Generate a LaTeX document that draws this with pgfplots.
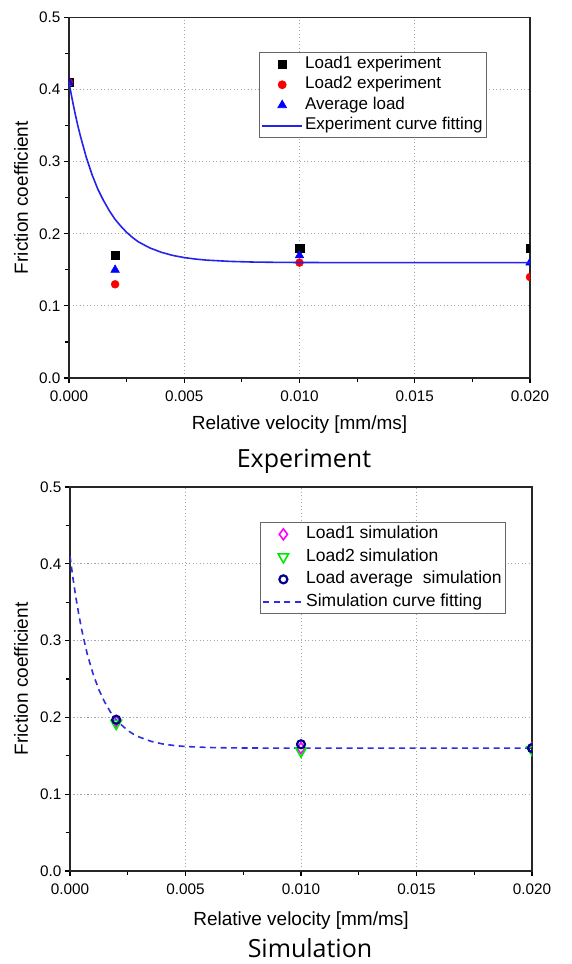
\documentclass[border=0pt]{standalone}
\usepackage{fontspec}
\setmainfont{Liberation Sans}
\newfontfamily\capfont{Open Sans}
\usepackage{pgfplots}
\pgfplotsset{compat=1.18}
\definecolor{fitblue}{RGB}{35,35,235}
\definecolor{dashblue}{RGB}{45,45,225}
\definecolor{mkblue}{RGB}{0,0,255}
\definecolor{mkred}{RGB}{250,0,0}
\definecolor{mkmag}{RGB}{255,0,255}
\definecolor{mkgreen}{RGB}{0,235,0}
\definecolor{mknavy}{RGB}{0,0,140}
\begin{document}
\begin{tikzpicture}
\useasboundingbox (0pt,0pt) rectangle (571pt,964pt);
\pgfplotsset{
  myaxis/.style={
    scale only axis, anchor=south west,
    xmin=0, xmax=0.02, ymin=0, ymax=0.5,
    xtick={0,0.005,0.01,0.015,0.02},
    ytick={0,0.1,0.2,0.3,0.4,0.5},
    minor x tick num=1, minor y tick num=1,
    tick pos=left, tick align=outside,
    major tick length=5pt, minor tick length=4pt,
    every tick/.style={black, line width=1.2pt},
    grid=major,
    major grid style={black!35, line width=1pt, dash pattern=on 1.2pt off 2.3pt},
    axis line style={black!85, line width=1.4pt},
    scaled x ticks=false, scaled y ticks=false,
    x tick label style={/pgf/number format/fixed, /pgf/number format/fixed zerofill, /pgf/number format/precision=3, yshift=-4pt},
    y tick label style={/pgf/number format/fixed, /pgf/number format/fixed zerofill, /pgf/number format/precision=1},
    /pgf/number format/assume math mode=true,
    tick label style={font=\fontsize{15.3}{18}\selectfont},
    label style={font=\fontsize{19}{22}\selectfont},
    legend cell align=left,
    clip marker paths=true,
    legend image code/.code={\draw[mark repeat=2,mark phase=2,##1] plot coordinates {(0pt,0pt) (20pt,0pt) (40pt,0pt)};},
  }
}
% ---------------- Experiment ----------------
\begin{axis}[myaxis,
  at={(69pt,586pt)}, width=461pt, height=360.5pt,
  xlabel={Relative velocity [mm/ms]},
  ylabel={Friction coefficient},
  x label style={at={(axis description cs:0.5,-0.13)}, anchor=center},
  y label style={at={(axis description cs:-0.104,0.5)}, anchor=center},
  legend style={at={(0.907,0.904)}, anchor=north east, draw=black!60, line width=0.8pt,
    font=\fontsize{17}{20}\selectfont, inner xsep=2pt, inner ysep=2pt, row sep=1pt,
    nodes={inner sep=2pt, text height=12pt, text depth=3.5pt}},
]
\addplot[only marks, mark=square*, mark size=4.2pt, color=black, draw=black, fill=black] coordinates {
(0,0.41) (0.002,0.17) (0.01,0.18) (0.02,0.18)};
\addlegendentry{Load1 experiment}
\addplot[only marks, mark=*, mark size=4pt, color=mkred, draw=mkred, fill=mkred] coordinates {
(0,0.41) (0.002,0.13) (0.01,0.16) (0.02,0.14)};
\addlegendentry{Load2 experiment}
\addplot[only marks, mark=triangle*, mark size=5pt, color=mkblue, draw=mkblue, fill=mkblue] coordinates {
(0,0.41) (0.002,0.15) (0.01,0.17) (0.02,0.16)};
\addlegendentry{Average load}
\addplot[forget plot, no marks, color=fitblue, draw=fitblue, line width=1.6pt] coordinates {
(0,0.41) (0.000125,0.3887) (0.00025,0.369) (0.000375,0.351) (0.0005,0.335)
(0.00075,0.306) (0.001,0.282) (0.00125,0.262) (0.0015,0.246) (0.00175,0.232)
(0.002,0.220) (0.00225,0.2105) (0.0025,0.202) (0.00275,0.195) (0.003,0.189)
(0.0035,0.1805) (0.004,0.1744) (0.0045,0.170) (0.005,0.167) (0.0055,0.1649)
(0.006,0.1634) (0.007,0.1617) (0.008,0.1608) (0.009,0.1604) (0.01,0.1602)
(0.012,0.160) (0.015,0.160) (0.02,0.160)};
\addlegendimage{legend image code/.code={\draw[draw=fitblue, line width=1.8pt] (0pt,0pt) -- (40pt,0pt);}}
\addlegendentry{Experiment curve fitting}
\end{axis}
\node[font=\capfont\fontsize{25}{30}\selectfont] at (304pt,503pt) {Experiment};
% ---------------- Simulation ----------------
\begin{axis}[myaxis,
  at={(70pt,93pt)}, width=462pt, height=384pt,
  xlabel={Relative velocity [mm/ms]},
  ylabel={Friction coefficient},
  x label style={at={(axis description cs:0.5,-0.128)}, anchor=center},
  y label style={at={(axis description cs:-0.106,0.5)}, anchor=center},
  legend style={at={(0.944,0.909)}, anchor=north east, draw=black!60, line width=0.8pt,
    font=\fontsize{17.5}{20}\selectfont, inner xsep=2pt, inner ysep=2pt, row sep=2.5pt,
    nodes={inner sep=2pt, text height=12.5pt, text depth=3.5pt}},
]
\addplot[forget plot, no marks, color=dashblue, draw=dashblue, line width=1.6pt, dash pattern=on 6pt off 4.5pt] coordinates {
(0,0.41) (0.000125,0.382) (0.00025,0.357) (0.000375,0.335) (0.0005,0.315)
(0.00075,0.282) (0.001,0.2565) (0.00125,0.236) (0.0015,0.220) (0.00175,0.207)
(0.002,0.197) (0.00225,0.1896) (0.0025,0.183) (0.00275,0.178) (0.003,0.1744)
(0.0035,0.1689) (0.004,0.1655) (0.0045,0.1634) (0.005,0.1621) (0.006,0.1608)
(0.007,0.1603) (0.008,0.1601) (0.01,0.160) (0.015,0.160) (0.02,0.160)};
\addplot[only marks, mark=diamond, mark size=5.5pt, color=mkmag, draw=mkmag, mark options={line width=1.6pt}] coordinates {
(0.002,0.195) (0.01,0.160) (0.02,0.160)};
\addlegendentry{Load1 simulation}
\addplot[only marks, mark=triangle, mark size=6pt, color=mkgreen, draw=mkgreen, mark options={rotate=180, line width=1.6pt}] coordinates {
(0.002,0.192) (0.01,0.156) (0.02,0.158)};
\addlegendentry{Load2 simulation}
\addplot[only marks, mark=o, mark size=4pt, color=mknavy, draw=mknavy, mark options={line width=2.2pt}] coordinates {
(0.002,0.197) (0.01,0.165) (0.02,0.160)};
\addlegendentry{Load average~~simulation}
\addlegendimage{no marks, color=dashblue, draw=dashblue, line width=1.6pt, dash pattern=on 6pt off 4.5pt}
\addlegendentry{Simulation curve fitting}
\end{axis}
\node[font=\capfont\fontsize{25}{30}\selectfont] at (310pt,16pt) {Simulation};
\end{tikzpicture}
\end{document}
